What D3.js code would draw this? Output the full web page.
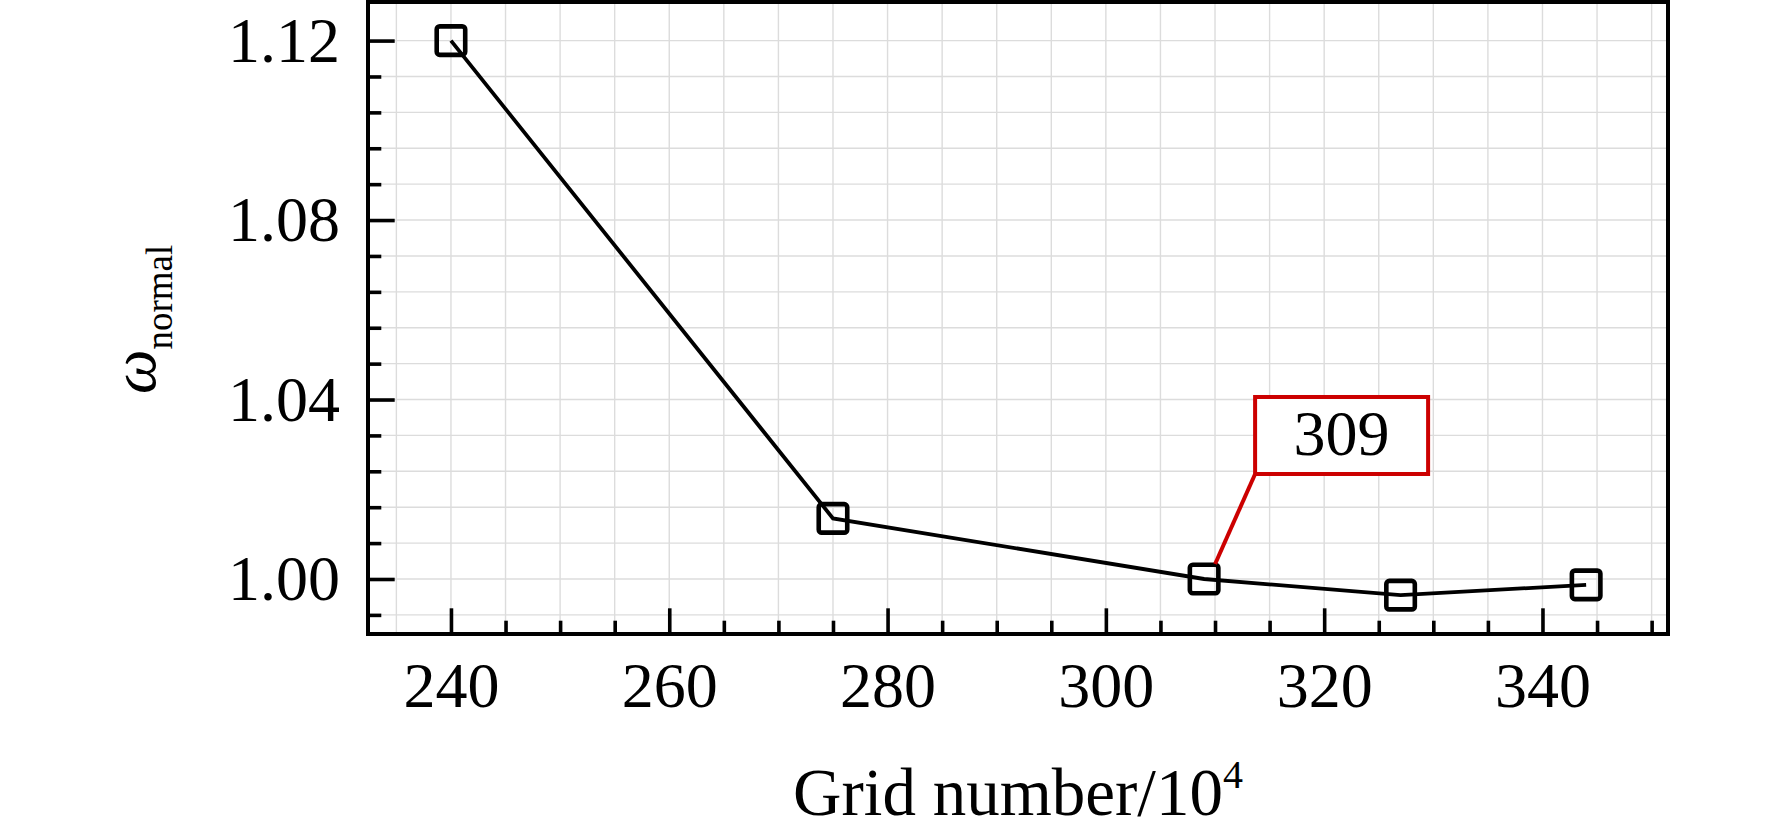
<!DOCTYPE html>
<html>
<head>
  <meta charset="utf-8">
  <title>Grid independence</title>
  <style>
    body { margin: 0; background: #fff; }
    text { font-family: "Liberation Serif", "Times New Roman", serif; fill: #000; }
    line.grid { stroke: #dcdcdc; stroke-width: 1.4; }
    .axis path { display: none; }
    .axis line { stroke: #000; stroke-width: 3.6; }
    .axis text { font-size: 64px; }
    path.series { fill: none; stroke: #000; stroke-width: 3.8; }
    rect.marker { fill: none; stroke: #000; stroke-width: 4.6; }
    rect.note { fill: #fff; stroke: #cc0000; stroke-width: 4; }
    line.note { stroke: #cc0000; stroke-width: 4; }
  </style>
</head>
<body>
<svg id="chart"></svg>

<script src="https://cdn.jsdelivr.net/npm/d3@7/dist/d3.min.js"></script>
<script>
// data
var gridNumber = [240, 275, 309, 327, 344];
var omegaNormal = [1.120, 1.0135, 1.000, 0.9964, 0.9987];
var xTicks = [240, 260, 280, 300, 320, 340];
var xMinor = [245, 250, 255, 265, 270, 275, 285, 290, 295, 305, 310, 315, 325, 330, 335, 345, 350];
var yTicks = [1.00, 1.04, 1.08, 1.12];
var yMinor = [0.992, 1.008, 1.016, 1.024, 1.032, 1.048, 1.056, 1.064, 1.072, 1.088, 1.096, 1.104, 1.112];
var xGrid = [235, 240, 245, 250, 255, 260, 265, 270, 275, 280, 285, 290, 295, 300, 305, 310, 315, 320, 325, 330, 335, 340, 345, 350];
var yGrid = [0.992, 1.000, 1.008, 1.016, 1.024, 1.032, 1.040, 1.048, 1.056, 1.064, 1.072, 1.080, 1.088, 1.096, 1.104, 1.112, 1.120];
var noteIndex = 2;          // the annotated point
var noteLabel = '309';

var W = 1772, H = 828;
var margin = {left: 368, top: 2, right: 104, bottom: 194};
var width = W - margin.left - margin.right,
    height = H - margin.top - margin.bottom;

var svg = d3.select('#chart')
  .attr('width', W)
  .attr('height', H);

var g = svg.append('g')
  .attr('transform', 'translate(' + margin.left + ',' + margin.top + ')');

var x = d3.scaleLinear().domain([232.4, 351.5]).range([0, width]);
var y = d3.scaleLinear().domain([0.98774, 1.1286]).range([height, 0]);

// grid
g.selectAll('line.vgrid')
  .data(xGrid)
  .enter()
  .append('line')
  .attr('class', 'grid')
  .attr('x1', d => { return x(d); })
  .attr('x2', d => { return x(d); })
  .attr('y1', 0)
  .attr('y2', height);

g.selectAll('line.hgrid')
  .data(yGrid)
  .enter()
  .append('line')
  .attr('class', 'grid')
  .attr('x1', 0)
  .attr('x2', width)
  .attr('y1', d => { return y(d); })
  .attr('y2', d => { return y(d); });

// axes, ticks pointing inward
g.append('g')
  .attr('class', 'axis')
  .call(d3.axisLeft(y).tickValues(yTicks).tickFormat(d3.format('.2f'))
    .tickSizeInner(-26.7).tickSizeOuter(0).tickPadding(28));

g.append('g')
  .attr('class', 'axis')
  .call(d3.axisLeft(y).tickValues(yMinor).tickFormat('')
    .tickSizeInner(-13.3).tickSizeOuter(0));

g.append('g')
  .attr('class', 'axis')
  .attr('transform', 'translate(0,' + height + ')')
  .call(d3.axisBottom(x).tickValues(xTicks)
    .tickSizeInner(-25.7).tickSizeOuter(0).tickPadding(28));

g.append('g')
  .attr('class', 'axis')
  .attr('transform', 'translate(0,' + height + ')')
  .call(d3.axisBottom(x).tickValues(xMinor).tickFormat('')
    .tickSizeInner(-13.3).tickSizeOuter(0));

// frame
g.append('rect')
  .attr('x', 0)
  .attr('y', 0)
  .attr('width', width)
  .attr('height', height)
  .attr('fill', 'none')
  .attr('stroke', '#000')
  .attr('stroke-width', 4);

// series
var points = gridNumber.map((d, i) => { return [d, omegaNormal[i]]; });

g.append('path')
  .datum(points)
  .attr('class', 'series')
  .attr('d', d3.line()
    .x(d => { return x(d[0]); })
    .y(d => { return y(d[1]); }));

var ms = 28.5;  // marker side
g.selectAll('rect.marker')
  .data(points)
  .enter()
  .append('rect')
  .attr('class', 'marker')
  .attr('x', d => { return x(d[0]) - ms / 2; })
  .attr('y', d => { return y(d[1]) - ms / 2; })
  .attr('width', ms)
  .attr('height', ms)
  .attr('rx', 3);

// annotation box with leader line
var px = x(points[noteIndex][0]), py = y(points[noteIndex][1]);
var bx = px + 51, by = py - 182, bw = 173, bh = 77;

g.append('line')
  .attr('class', 'note')
  .attr('x1', px + 11)
  .attr('y1', py - 15)
  .attr('x2', bx)
  .attr('y2', by + bh);

g.append('rect')
  .attr('class', 'note')
  .attr('x', bx)
  .attr('y', by)
  .attr('width', bw)
  .attr('height', bh);

g.append('text')
  .attr('x', bx + bw / 2)
  .attr('y', by + 58)
  .attr('text-anchor', 'middle')
  .style('font-size', '64px')
  .text(noteLabel);

// axis titles
var xt = svg.append('text')
  .attr('x', margin.left + width / 2)
  .attr('y', 815)
  .attr('text-anchor', 'middle')
  .style('font-size', '67px');
xt.append('tspan').text('Grid number/10');
xt.append('tspan')
  .attr('dy', -27)
  .style('font-size', '40px')
  .text('4');

var yt = svg.append('text')
  .attr('transform', 'translate(155,394) rotate(-90)')
  .attr('text-anchor', 'start');
yt.append('tspan')
  .style('font-size', '63px')
  .style('font-style', 'italic')
  .text('ω');
yt.append('tspan')
  .attr('dy', 17)
  .style('font-size', '37px')
  .text('normal');
</script>
</body>
</html>
